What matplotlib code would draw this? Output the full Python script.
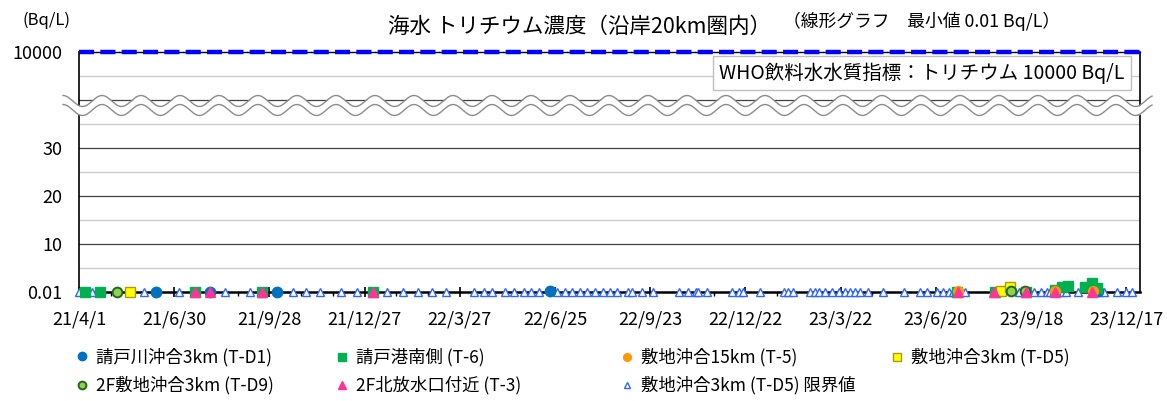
import matplotlib
matplotlib.use('Agg')
import matplotlib.pyplot as plt
import numpy as np
import pandas as pd

plt.rcParams['font.family'] = ['Noto Sans CJK JP', 'DejaVu Sans']

# ---- data (Bq/L) ----
td1_dates = ['2021-06-13', '2021-08-03', '2021-10-05', '2022-06-20', '2023-11-20']
td1_vals = [0.05, 0.05, 0.05, 0.3, 0.2]

t6_dates = ['2021-04-07', '2021-04-21', '2021-07-20', '2021-09-21', '2022-01-04',
            '2023-07-10', '2023-08-15', '2023-09-13', '2023-10-11', '2023-10-17',
            '2023-10-23', '2023-11-08', '2023-11-15', '2023-11-19']
t6_vals = [0.1, 0.1, 0.1, 0.1, 0.1, 0.1, 0.1, 0.1, 0.5, 1.1, 1.2, 1.0, 1.8, 0.9]

t5_dates = ['2023-07-11', '2023-08-29', '2023-10-11', '2023-11-16']
t5_vals = [0.2, 0.6, 0.3, 0.3]

td5_dates = ['2021-05-19', '2023-08-21', '2023-08-29']
td5_vals = [0.1, 0.3, 1.0]

td9_dates = ['2021-05-07', '2023-08-30', '2023-09-12']
td9_vals = [0.1, 0.3, 0.2]

t3_dates = ['2021-07-20', '2021-08-03', '2021-09-21', '2022-01-04', '2023-07-11',
            '2023-08-14', '2023-09-13', '2023-10-11', '2023-11-15']
t3_vals = [0.1, 0.1, 0.1, 0.1, 0.1, 0.1, 0.1, 0.1, 0.1]

# T-D5 detection-limit values
td5_nd_dates = ['2021-04-01', '2021-04-13', '2021-06-01', '2021-07-05', '2021-08-17',
                '2021-09-10', '2021-10-20', '2021-11-02', '2021-11-15', '2021-12-05',
                '2021-12-20', '2022-01-17', '2022-02-01', '2022-02-15', '2022-03-01',
                '2022-03-14', '2022-04-09', '2022-04-19', '2022-04-26', '2022-05-09',
                '2022-05-17', '2022-05-27', '2022-06-02', '2022-06-10', '2022-06-27',
                '2022-07-04', '2022-07-11', '2022-07-19', '2022-07-25', '2022-08-02',
                '2022-08-09', '2022-08-16', '2022-08-23', '2022-09-02', '2022-09-06',
                '2022-09-15', '2022-09-26', '2022-10-20', '2022-10-29', '2022-11-05',
                '2022-11-07', '2022-11-16', '2022-12-09', '2022-12-16', '2022-12-20',
                '2023-01-05', '2023-01-27', '2023-01-31', '2023-02-05', '2023-02-21',
                '2023-02-26', '2023-03-02', '2023-03-07', '2023-03-14', '2023-03-20',
                '2023-03-26', '2023-03-31', '2023-04-05', '2023-04-09', '2023-04-17',
                '2023-05-01', '2023-05-21', '2023-06-05', '2023-06-12', '2023-06-21',
                '2023-06-27', '2023-07-02', '2023-07-06', '2023-07-18', '2023-09-07',
                '2023-09-21', '2023-09-27', '2023-10-03', '2023-10-06', '2023-10-16',
                '2023-10-21', '2023-11-01', '2023-11-22', '2023-11-26', '2023-12-08',
                '2023-12-17', '2023-12-22']
td5_nd_vals = [0.1] * len(td5_nd_dates)

who_limit = 10000
tick_dates = pd.date_range('2021-04-01', periods=12, freq='90D')
minor_dates = pd.date_range('2021-04-01', '2023-12-30', freq='30D')

# ---- layout helpers (pixel based) ----
W, H = 1167, 401
fig = plt.figure(figsize=(W / 100, H / 100), dpi=100)


def px_box(x0, y0, x1, y1):
    return [x0 / W, 1 - y1 / H, (x1 - x0) / W, (y1 - y0) / H]


ax = fig.add_axes(px_box(79, 106, 1140, 292))
ax_top = fig.add_axes(px_box(79, 52, 1140, 106))

xmin, xmax = pd.Timestamp('2021-04-01'), pd.Timestamp('2023-12-30')
for a in (ax, ax_top):
    a.set_xlim(xmin, xmax)
    a.set_facecolor('none')
    for s in ('left', 'right'):
        a.spines[s].set_linewidth(1.2)
        a.spines[s].set_color('black')

ax.set_ylim(0, (292 - 106) / 4.8)
ax_top.set_ylim(who_limit - 54 / 4.8, who_limit)

# grid lines
for v in (10, 20, 30):
    ax.axhline(v, color='#404040', lw=0.9, zorder=0)
for v in (5, 15, 25, 35):
    ax.axhline(v, color='#cccccc', lw=1.0, zorder=0)
ax_top.axhline(who_limit - 5, color='#cccccc', lw=1.0, zorder=0)
ax_top.axhline(who_limit - 10, color='#404040', lw=0.9, zorder=0)

ax.spines['top'].set_visible(False)
ax.spines['bottom'].set_linewidth(1.8)
ax_top.spines['bottom'].set_visible(False)
ax_top.spines['top'].set_linewidth(1.0)

# y ticks
ax.set_yticks([0, 10, 20, 30])
ax.set_yticklabels(['0.01', '10', '20', '30'])
ax_top.set_yticks([who_limit])
ax_top.set_yticklabels(['10000'])
for a in (ax, ax_top):
    a.tick_params(axis='y', length=0, pad=12, labelsize=13)

# x ticks
ax.set_xticks(tick_dates)
ax.set_xticklabels([f"{d.year % 100}/{d.month}/{d.day}" for d in tick_dates])
ax.set_xticks(minor_dates, minor=True)
ax.tick_params(axis='x', which='major', direction='inout', length=7, width=1.2,
               pad=10, labelsize=13)
ax.tick_params(axis='x', which='minor', direction='out', length=3, width=1)
ax_top.set_xticks([])

# WHO guideline line
ax_top.axhline(who_limit, color='#0000ff', lw=3.2, dashes=(3.4, 1.4),
               clip_on=False, zorder=5)

# ---- series ----
def d(lst):
    return pd.to_datetime(lst)


h_nd, = ax.plot(d(td5_nd_dates), td5_nd_vals, ls='none', marker='^', ms=6,
                mfc='white', mec='#3366ff', mew=1.0, clip_on=False, zorder=3,
                label='敷地沖合3km (T-D5) 限界値')
h_td1, = ax.plot(d(td1_dates), td1_vals, ls='none', marker='o', ms=7.5,
                 mfc='#0070c0', mec='#0070c0', clip_on=False, zorder=4,
                 label='請戸川沖合3km (T-D1)')
h_t6, = ax.plot(d(t6_dates), t6_vals, ls='none', marker='s', ms=7,
                mfc='#00b050', mec='#00b050', clip_on=False, zorder=4,
                label='請戸港南側 (T-6)')
h_t5, = ax.plot(d(t5_dates), t5_vals, ls='none', marker='o', ms=7,
                mfc='#ff9900', mec='#ff9900', clip_on=False, zorder=4,
                label='敷地沖合15km (T-5)')
h_td5, = ax.plot(d(td5_dates), td5_vals, ls='none', marker='s', ms=7,
                 mfc='#ffff00', mec='#b09a00', mew=1.0, clip_on=False, zorder=4,
                 label='敷地沖合3km (T-D5)')
h_td9, = ax.plot(d(td9_dates), td9_vals, ls='none', marker='o', ms=7,
                 mfc='#92d050', mec='#1e6a1e', mew=1.4, clip_on=False, zorder=4,
                 label='2F敷地沖合3km (T-D9)')
h_t3, = ax.plot(d(t3_dates), t3_vals, ls='none', marker='^', ms=7,
                mfc='#ff3399', mec='#ff3399', clip_on=False, zorder=5,
                label='2F北放水口付近 (T-3)')

# ---- broken-axis waves ----
ov = fig.add_axes([0, 0, 1, 1])
ov.set_xlim(0, W)
ov.set_ylim(H, 0)
ov.axis('off')
wx = np.linspace(63, 1152, 1500)
wave = 5.5 * np.sin(2 * np.pi * (wx - 63) / 39.0 + np.pi / 2)
ov.fill_between(wx, 101 - wave, 110 - wave, color='white', lw=0)
ov.plot(wx, 101 - wave, color='#8c8c8c', lw=1.0)
ov.plot(wx, 110 - wave, color='#8c8c8c', lw=1.0)

# ---- texts ----
fig.text(579 / W, 1 - 27 / H, '海水 トリチウム濃度（沿岸20km圏内）', ha='center',
         va='center', fontsize=15.5)
fig.text(783 / W, 1 - 21 / H, '（線形グラフ　最小値 0.01 Bq/L）', ha='left',
         va='center', fontsize=12.8)
fig.text(47 / W, 1 - 20 / H, '(Bq/L)', ha='center', va='center', fontsize=12)
fig.text(922 / W, 1 - 73 / H, 'WHO飲料水水質指標：トリチウム 10000 Bq/L',
         ha='center', va='center', fontsize=14, zorder=10,
         bbox=dict(boxstyle='square,pad=0.3', fc='white', ec='#bfbfbf', lw=1.0))

# ---- legend, one per column ----
columns = [([h_td1, h_td9], 75), ([h_t6, h_t3], 335), ([h_t5, h_nd], 620),
           ([h_td5], 890)]
for handles, x0 in columns:
    fig.legend(handles=handles, loc='upper left', bbox_to_anchor=(x0 / W, 1 - 348 / H),
               frameon=False, fontsize=12.5, handlelength=0.8, handletextpad=0.4,
               borderpad=0, borderaxespad=0, labelspacing=0.55, markerscale=0.8)

fig.savefig('out.png', dpi=100)
